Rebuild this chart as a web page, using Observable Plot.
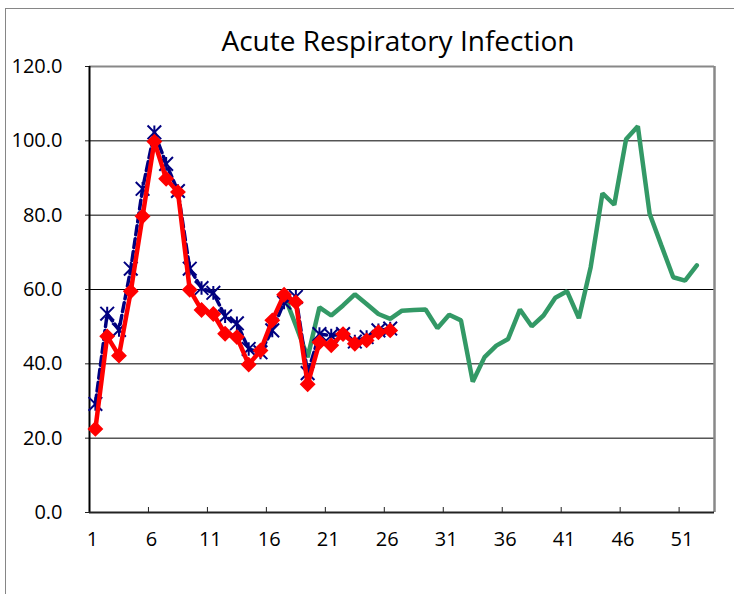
<!DOCTYPE html>
<html>
<head>
<meta charset="utf-8">
<script src="https://cdn.jsdelivr.net/npm/d3@7"></script>
<script src="https://cdn.jsdelivr.net/npm/@observablehq/plot@0.6"></script>
<style>
  html, body { margin: 0; padding: 0; background: #fff; overflow: hidden; }
  #wrap { position: relative; width: 734px; height: 594px; }
  #frame { position: absolute; left: 5px; top: 8px; width: 800px; height: 700px;
           border-left: 1px solid #868686; border-top: 1px solid #868686; pointer-events: none; }
</style>
</head>
<body>
<div id="wrap"><div id="frame"></div></div>
<script>
const title = "Acute Respiratory Infection";
const yTicks = [0, 20, 40, 60, 80, 100, 120];
const xLabels = [1, 6, 11, 16, 21, 26, 31, 36, 41, 46, 51];
const xTickMarks = [5.5, 10.5, 15.5, 20.5, 25.5, 30.5, 35.5, 40.5, 45.5, 50.5];
const gridValues = [20, 40, 60, 80, 100];

// Series 1 (red, diamonds), weeks 1-26
const redWeeks = d3.range(1, 27);
const redValues = [22.5, 47.4, 42.2, 59.5, 79.7, 99.8, 89.8, 86.2, 59.9, 54.5, 53.4, 48.1, 47.2, 39.8, 43.6, 51.7, 58.6, 56.6, 34.5, 45.8, 45.0, 48.0, 45.4, 46.3, 48.5, 49.0];

// Series 2 (navy dashed, stars), weeks 1-26
const blueWeeks = d3.range(1, 27);
const blueValues = [29.2, 53.5, 49.1, 65.6, 87.1, 102.3, 93.8, 86.5, 65.6, 60.4, 59.1, 52.8, 50.9, 44.0, 43.1, 49.0, 56.5, 58.0, 37.5, 48.0, 47.6, 48.0, 46.0, 47.2, 49.0, 49.5];

// Series 3 (green), weeks 17-52
const greenWeeks = d3.range(17, 53);
const greenValues = [58.6, 50.3, 41.8, 55.2, 53.0, 55.7, 58.7, 56.1, 53.4, 52.1, 54.3, 54.5, 54.6, 49.6, 53.2, 51.7, 35.2, 41.8, 44.9, 46.7, 54.6, 50.1, 53.0, 57.8, 59.5, 52.3, 66.0, 85.9, 82.8, 100.4, 103.9, 80.4, 71.8, 63.3, 62.4, 66.5];

const red = redWeeks.map((w, i) => ({week: w, value: redValues[i]}));
const blue = blueWeeks.map((w, i) => ({week: w, value: blueValues[i]}));
const green = greenWeeks.map((w, i) => ({week: w, value: greenValues[i]}));

const starSymbol = {
  draw(context, size) {
    const h = Math.sqrt(size / Math.PI) * 1.1;
    context.moveTo(-h, -h); context.lineTo(h, h);
    context.moveTo(h, -h); context.lineTo(-h, h);
    context.moveTo(0, -h); context.lineTo(0, h);
  }
};

const font = "'Open Sans', sans-serif";

const chart = Plot.plot({
  width: 734,
  height: 594,
  marginLeft: 89,
  marginRight: 20,
  marginTop: 66,
  marginBottom: 82,
  style: {fontFamily: font, background: "transparent", color: "#000"},
  x: {domain: [0.5, 53.5], label: null},
  y: {domain: [0, 120], label: null},
  marks: [
    Plot.ruleY(gridValues, {stroke: "#000", strokeWidth: 1}),
    Plot.ruleY([120], {stroke: "#888", strokeWidth: 2}),
    Plot.ruleX([53.5], {stroke: "#888", strokeWidth: 2.5}),
    Plot.axisY({ticks: yTicks, tickFormat: d => d.toFixed(1), tickSize: 4, tickPadding: 23, fontSize: 20, label: null, stroke: "#222"}),
    Plot.axisX({ticks: xLabels, tickFormat: d => String(d), tickSize: 0, tickPadding: 19, fontSize: 20, dx: -3, label: null}),
    Plot.axisX({ticks: xTickMarks, tickSize: 5, dy: -5, tickFormat: () => "", stroke: "#222", label: null}),
    Plot.ruleX([0.5], {stroke: "#000", strokeWidth: 2}),
    Plot.ruleY([0], {stroke: "#222", strokeWidth: 2}),
    Plot.line(green, {x: "week", y: "value", stroke: "#339966", strokeWidth: 4.5, strokeLinejoin: "miter"}),
    Plot.line(blue, {x: "week", y: "value", stroke: "#000080", strokeWidth: 3.5, strokeDasharray: "9,4"}),
    Plot.dot(blue, {x: "week", y: "value", symbol: starSymbol, r: 6.2, stroke: "#000080", strokeWidth: 2, fill: "none"}),
    Plot.line(red, {x: "week", y: "value", stroke: "#ff0000", strokeWidth: 4.5}),
    Plot.dot(red, {x: "week", y: "value", symbol: "diamond2", r: 6.2, fill: "#ff0000", stroke: "#ff0000", strokeWidth: 1.5}),
    Plot.text([title], {frameAnchor: "top", lineAnchor: "middle", dy: -24, dx: -4, fontSize: 28, fill: "#000"})
  ]
});
document.getElementById("wrap").prepend(chart);
chart.style.position = "absolute";
chart.style.left = "0";
chart.style.top = "0";
</script>
</body>
</html>
